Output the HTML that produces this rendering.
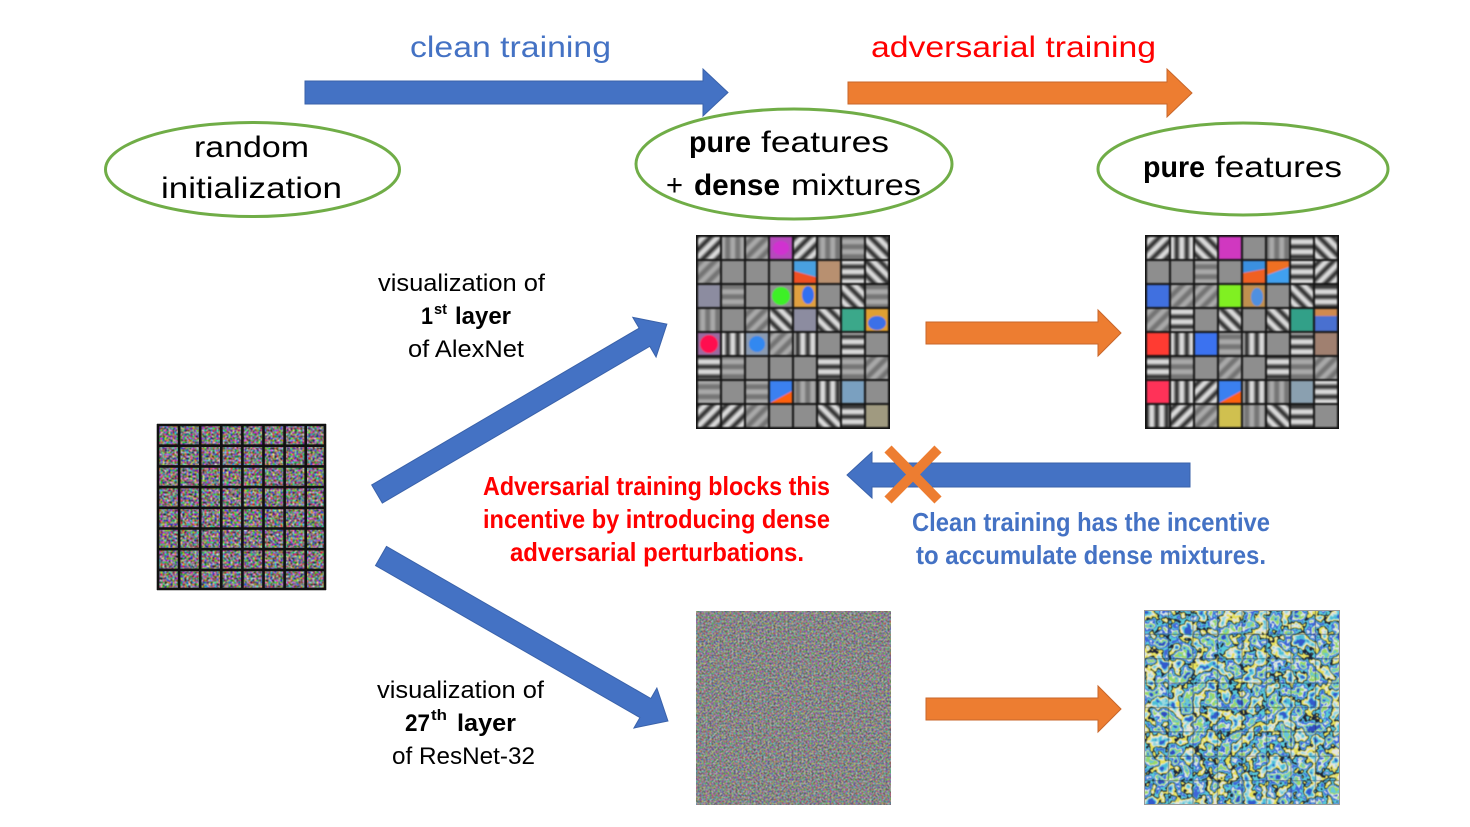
<!DOCTYPE html>
<html><head><meta charset="utf-8"><style>html,body{margin:0;padding:0;background:#fff;}svg{display:block}</style></head>
<body>
<svg width="1470" height="827" viewBox="0 0 1470 827" xmlns="http://www.w3.org/2000/svg" font-family="'Liberation Sans', sans-serif">
<defs>
<pattern id="s1" width="10" height="10" patternUnits="userSpaceOnUse" patternTransform="rotate(45)"><rect width="10" height="10" fill="#8e8e8e"/><rect width="3.5" height="10" fill="#3a3a3a"/><rect x="5" width="3.5" height="10" fill="#d8d8d8"/></pattern>
<pattern id="s2" width="10" height="10" patternUnits="userSpaceOnUse" patternTransform="rotate(-45)"><rect width="10" height="10" fill="#8e8e8e"/><rect width="3.5" height="10" fill="#3a3a3a"/><rect x="5" width="3.5" height="10" fill="#d8d8d8"/></pattern>
<pattern id="s3" width="10" height="10" patternUnits="userSpaceOnUse" patternTransform="rotate(90)"><rect width="10" height="10" fill="#8e8e8e"/><rect width="3.5" height="10" fill="#3a3a3a"/><rect x="5" width="3.5" height="10" fill="#d8d8d8"/></pattern>
<pattern id="s4" width="10" height="10" patternUnits="userSpaceOnUse"><rect width="10" height="10" fill="#8e8e8e"/><rect width="3.5" height="10" fill="#3a3a3a"/><rect x="5" width="3.5" height="10" fill="#d8d8d8"/></pattern>
<pattern id="f1" width="10" height="10" patternUnits="userSpaceOnUse" patternTransform="rotate(45)"><rect width="10" height="10" fill="#8e8e8e"/><rect width="3.5" height="10" fill="#747474"/><rect x="5" width="3.5" height="10" fill="#a8a8a8"/></pattern>
<pattern id="f3" width="10" height="10" patternUnits="userSpaceOnUse" patternTransform="rotate(90)"><rect width="10" height="10" fill="#8e8e8e"/><rect width="3.5" height="10" fill="#747474"/><rect x="5" width="3.5" height="10" fill="#a8a8a8"/></pattern>
<pattern id="f4" width="10" height="10" patternUnits="userSpaceOnUse"><rect width="10" height="10" fill="#8e8e8e"/><rect width="3.5" height="10" fill="#747474"/><rect x="5" width="3.5" height="10" fill="#a8a8a8"/></pattern>
<filter id="bl" x="-2%" y="-2%" width="104%" height="104%"><feGaussianBlur stdDeviation="0.9"/></filter>
<filter id="nz1" x="0" y="0" width="1" height="1" color-interpolation-filters="sRGB"><feTurbulence type="fractalNoise" baseFrequency="0.5" numOctaves="2" seed="4"/><feColorMatrix type="matrix" values="2.4 0 0 0 -0.7  0 2.2 0 0 -0.62  0 0 2.4 0 -0.7  0 0 0 0 1"/><feGaussianBlur stdDeviation="0.5"/></filter>
<filter id="nz2" x="0" y="0" width="1" height="1" color-interpolation-filters="sRGB"><feTurbulence type="fractalNoise" baseFrequency="0.5" numOctaves="2" seed="11"/><feColorMatrix type="matrix" values="3 0 0 0 -1  0 3 0 0 -1  0 0 3 0 -1  0 0 0 0 1"/></filter>
<filter id="nz3" x="0" y="0" width="1" height="1" color-interpolation-filters="sRGB"><feTurbulence type="fractalNoise" baseFrequency="0.08" numOctaves="3" seed="9"/><feColorMatrix type="matrix" values="1.6 0 0 0 -0.3  1.6 0 0 0 -0.3  1.6 0 0 0 -0.3  0 0 0 0 1"/><feComponentTransfer><feFuncR type="discrete" tableValues="0.2 0.3 0.6 0.9 0.9 0.12 0.35 0.25 0.85 0.6 0.4 0.2"/><feFuncG type="discrete" tableValues="0.35 0.75 0.85 0.9 0.88 0.14 0.8 0.4 0.9 0.85 0.78 0.3"/><feFuncB type="discrete" tableValues="0.8 0.85 0.88 0.88 0.35 0.22 0.85 0.85 0.9 0.4 0.86 0.75"/></feComponentTransfer><feGaussianBlur stdDeviation="0.6"/></filter>
</defs>
<rect width="1470" height="827" fill="#fff"/>

<!-- top arrows -->
<polygon points="305,81 703,81 703,69 728,92.5 703,116 703,104 305,104" fill="#4472c4" stroke="#3a62aa" stroke-width="1"/>
<polygon points="848,82 1167,82 1167,69 1192,93 1167,117 1167,104 848,104" fill="#ed7d31" stroke="#c8662a" stroke-width="1"/>

<!-- ellipses -->
<ellipse cx="252.5" cy="169.5" rx="147" ry="47" fill="none" stroke="#70ad47" stroke-width="3"/>
<ellipse cx="794" cy="164" rx="158" ry="55" fill="none" stroke="#70ad47" stroke-width="3"/>
<ellipse cx="1243" cy="169" rx="145" ry="46" fill="none" stroke="#70ad47" stroke-width="3"/>

<!-- top text -->
<text x="410" y="57" font-size="30" fill="#4472c4" textLength="201" lengthAdjust="spacingAndGlyphs">clean training</text>
<text x="871" y="57" font-size="30" fill="#ff0000" textLength="285" lengthAdjust="spacingAndGlyphs">adversarial training</text>
<text x="194" y="157" font-size="30" fill="#000" textLength="115" lengthAdjust="spacingAndGlyphs">random</text>
<text x="161" y="198" font-size="30" fill="#000" textLength="181" lengthAdjust="spacingAndGlyphs">initialization</text>
<text x="689" y="152" font-size="30" font-weight="bold" fill="#000" textLength="62" lengthAdjust="spacingAndGlyphs">pure</text>
<text x="761" y="152" font-size="30" fill="#000" textLength="128" lengthAdjust="spacingAndGlyphs">features</text>
<text x="666" y="195" font-size="30" fill="#000" textLength="17" lengthAdjust="spacingAndGlyphs">+</text>
<text x="694" y="195" font-size="30" font-weight="bold" fill="#000" textLength="86" lengthAdjust="spacingAndGlyphs">dense</text>
<text x="791" y="195" font-size="30" fill="#000" textLength="130" lengthAdjust="spacingAndGlyphs">mixtures</text>
<text x="1143" y="177" font-size="30" font-weight="bold" fill="#000" textLength="62" lengthAdjust="spacingAndGlyphs">pure</text>
<text x="1215" y="177" font-size="30" fill="#000" textLength="127" lengthAdjust="spacingAndGlyphs">features</text>

<!-- labels -->
<text x="378" y="291" font-size="24" fill="#000" textLength="167" lengthAdjust="spacingAndGlyphs">visualization of</text>
<text x="421" y="324" font-size="24" font-weight="bold" fill="#000" textLength="12" lengthAdjust="spacingAndGlyphs">1</text>
<text x="434" y="314" font-size="15" font-weight="bold" fill="#000" textLength="13" lengthAdjust="spacingAndGlyphs">st</text>
<text x="455" y="324" font-size="24" font-weight="bold" fill="#000" textLength="56" lengthAdjust="spacingAndGlyphs">layer</text>
<text x="408" y="357" font-size="24" fill="#000" textLength="116" lengthAdjust="spacingAndGlyphs">of AlexNet</text>
<text x="377" y="698" font-size="24" fill="#000" textLength="167" lengthAdjust="spacingAndGlyphs">visualization of</text>
<text x="405" y="731" font-size="24" font-weight="bold" fill="#000" textLength="25" lengthAdjust="spacingAndGlyphs">27</text>
<text x="431" y="720" font-size="15" font-weight="bold" fill="#000" textLength="16" lengthAdjust="spacingAndGlyphs">th</text>
<text x="457" y="731" font-size="24" font-weight="bold" fill="#000" textLength="59" lengthAdjust="spacingAndGlyphs">layer</text>
<text x="392" y="764" font-size="24" fill="#000" textLength="143" lengthAdjust="spacingAndGlyphs">of ResNet-32</text>

<text x="483" y="495" font-size="26" font-weight="bold" fill="#ff0000" textLength="347" lengthAdjust="spacingAndGlyphs">Adversarial training blocks this</text>
<text x="483" y="528" font-size="26" font-weight="bold" fill="#ff0000" textLength="347" lengthAdjust="spacingAndGlyphs">incentive by introducing dense</text>
<text x="510" y="561" font-size="26" font-weight="bold" fill="#ff0000" textLength="294" lengthAdjust="spacingAndGlyphs">adversarial perturbations.</text>
<text x="912" y="531" font-size="26" font-weight="bold" fill="#4472c4" textLength="358" lengthAdjust="spacingAndGlyphs">Clean training has the incentive</text>
<text x="916" y="564" font-size="26" font-weight="bold" fill="#4472c4" textLength="350" lengthAdjust="spacingAndGlyphs">to accumulate dense mixtures.</text>

<!-- diagonal arrows -->
<g transform="translate(377,494) rotate(-30.38)">
<polygon points="0,-10.5 310,-10.5 310,-23 336,0 310,23 310,10.5 0,10.5" fill="#4472c4" stroke="#3a62aa" stroke-width="1"/>
</g>
<g transform="translate(381,556) rotate(29.9)">
<polygon points="0,-11 305,-11 305,-23 331,0 305,23 305,11 0,11" fill="#4472c4" stroke="#3a62aa" stroke-width="1"/>
</g>

<!-- middle/bottom orange arrows -->
<polygon points="926,322 1098,322 1098,310 1121,333 1098,356 1098,344 926,344" fill="#ed7d31" stroke="#c8662a" stroke-width="1"/>
<polygon points="926,698 1098,698 1098,686 1121,709 1098,732 1098,720 926,720" fill="#ed7d31" stroke="#c8662a" stroke-width="1"/>

<!-- blocked blue arrow -->
<polygon points="1190,463 872,463 872,452 847,475 872,498 872,487 1190,487" fill="#4472c4" stroke="#3a62aa" stroke-width="1"/>
<line x1="888" y1="449" x2="938" y2="500" stroke="#ed7d31" stroke-width="10"/>
<line x1="938" y1="449" x2="888" y2="500" stroke="#ed7d31" stroke-width="10"/>

<!-- random init grid -->
<g transform="translate(157,424)">
<rect width="169" height="166" fill="#111"/>
<rect width="169" height="166" filter="url(#nz1)"/>
<g stroke="#111" stroke-width="2.6">
<line x1="1" y1="0" x2="1" y2="166"/><line x1="22.1" y1="0" x2="22.1" y2="166"/><line x1="43.2" y1="0" x2="43.2" y2="166"/><line x1="64.3" y1="0" x2="64.3" y2="166"/><line x1="85.4" y1="0" x2="85.4" y2="166"/><line x1="106.5" y1="0" x2="106.5" y2="166"/><line x1="127.6" y1="0" x2="127.6" y2="166"/><line x1="148.7" y1="0" x2="148.7" y2="166"/><line x1="168" y1="0" x2="168" y2="166"/>
<line x1="0" y1="1" x2="169" y2="1"/><line x1="0" y1="21.7" x2="169" y2="21.7"/><line x1="0" y1="42.4" x2="169" y2="42.4"/><line x1="0" y1="63.1" x2="169" y2="63.1"/><line x1="0" y1="83.8" x2="169" y2="83.8"/><line x1="0" y1="104.5" x2="169" y2="104.5"/><line x1="0" y1="125.2" x2="169" y2="125.2"/><line x1="0" y1="145.9" x2="169" y2="145.9"/><line x1="0" y1="165" x2="169" y2="165"/>
</g>
</g>

<!-- AlexNet grid (clean) -->
<g transform="translate(696,235)">
<rect width="194" height="194" fill="#141414"/>
<g filter="url(#bl)">
<rect x="2" y="2" width="22" height="22" fill="url(#s1)"/>
<rect x="26" y="2" width="22" height="22" fill="url(#f4)"/>
<rect x="50" y="2" width="22" height="22" fill="url(#f1)"/>
<rect x="74" y="2" width="22" height="22" fill="#b648bc"/><ellipse cx="85" cy="13" rx="8" ry="7" fill="#d030d0"/>
<rect x="98" y="2" width="22" height="22" fill="url(#s1)"/>
<rect x="122" y="2" width="22" height="22" fill="url(#f4)"/>
<rect x="146" y="2" width="22" height="22" fill="url(#f3)"/>
<rect x="170" y="2" width="22" height="22" fill="url(#s2)"/>

<rect x="2" y="26" width="22" height="22" fill="url(#f1)"/>
<rect x="26" y="26" width="22" height="22" fill="#8e8e8e"/>
<rect x="50" y="26" width="22" height="22" fill="#8e8e8e"/>
<rect x="74" y="26" width="22" height="22" fill="#8e8e8e"/>
<rect x="98" y="26" width="22" height="22" fill="#4aa0e0"/><polygon points="98,36 120,42 120,48 98,48" fill="#f05020"/>
<rect x="122" y="26" width="22" height="22" fill="#b89070"/>
<rect x="146" y="26" width="22" height="22" fill="url(#s3)"/>
<rect x="170" y="26" width="22" height="22" fill="url(#s2)"/>

<rect x="2" y="50" width="22" height="22" fill="#8c8ca0"/>
<rect x="26" y="50" width="22" height="22" fill="url(#f3)"/>
<rect x="50" y="50" width="22" height="22" fill="#8e8e8e"/>
<rect x="74" y="50" width="22" height="22" fill="#8e8e8e"/><ellipse cx="85" cy="61" rx="9" ry="9" fill="#3cf028"/>
<rect x="98" y="50" width="22" height="22" fill="#e0a040"/><ellipse cx="112" cy="60" rx="6" ry="9" fill="#3070f0"/>
<rect x="122" y="50" width="22" height="22" fill="#8e8e8e"/>
<rect x="146" y="50" width="22" height="22" fill="url(#s2)"/>
<rect x="170" y="50" width="22" height="22" fill="url(#f3)"/>

<rect x="2" y="74" width="22" height="22" fill="url(#f4)"/>
<rect x="26" y="74" width="22" height="22" fill="#8e8e8e"/>
<rect x="50" y="74" width="22" height="22" fill="url(#f1)"/>
<rect x="74" y="74" width="22" height="22" fill="url(#s2)"/>
<rect x="98" y="74" width="22" height="22" fill="#8c8ca0"/>
<rect x="122" y="74" width="22" height="22" fill="url(#s2)"/>
<rect x="146" y="74" width="22" height="22" fill="#3aa88a"/>
<rect x="170" y="74" width="22" height="22" fill="#e0a030"/><ellipse cx="181" cy="88" rx="9" ry="7" fill="#3a70e8"/>

<rect x="2" y="98" width="22" height="22" fill="#9a6aa0"/><circle cx="13" cy="109" r="9" fill="#ff1050"/>
<rect x="26" y="98" width="22" height="22" fill="url(#s4)"/>
<rect x="50" y="98" width="22" height="22" fill="#8a9ab0"/><circle cx="61" cy="109" r="8" fill="#3088f0"/>
<rect x="74" y="98" width="22" height="22" fill="url(#f1)"/>
<rect x="98" y="98" width="22" height="22" fill="url(#s4)"/>
<rect x="122" y="98" width="22" height="22" fill="#8e8e8e"/>
<rect x="146" y="98" width="22" height="22" fill="url(#s3)"/>
<rect x="170" y="98" width="22" height="22" fill="#8e8e8e"/>

<rect x="2" y="122" width="22" height="22" fill="url(#s3)"/>
<rect x="26" y="122" width="22" height="22" fill="url(#f3)"/>
<rect x="50" y="122" width="22" height="22" fill="#8e8e8e"/>
<rect x="74" y="122" width="22" height="22" fill="#8e8e8e"/>
<rect x="98" y="122" width="22" height="22" fill="#8e8e8e"/>
<rect x="122" y="122" width="22" height="22" fill="url(#s3)"/>
<rect x="146" y="122" width="22" height="22" fill="url(#f3)"/>
<rect x="170" y="122" width="22" height="22" fill="url(#f1)"/>

<rect x="2" y="146" width="22" height="22" fill="url(#f3)"/>
<rect x="26" y="146" width="22" height="22" fill="#8e8e8e"/>
<rect x="50" y="146" width="22" height="22" fill="url(#f3)"/>
<rect x="74" y="146" width="22" height="22" fill="#3a80f0"/><polygon points="74,168 96,156 96,168" fill="#ff6010"/>
<rect x="98" y="146" width="22" height="22" fill="url(#f4)"/>
<rect x="122" y="146" width="22" height="22" fill="url(#s4)"/>
<rect x="146" y="146" width="22" height="22" fill="#7aa0c0"/>
<rect x="170" y="146" width="22" height="22" fill="#8e8e8e"/>

<rect x="2" y="170" width="22" height="22" fill="url(#s1)"/>
<rect x="26" y="170" width="22" height="22" fill="url(#s1)"/>
<rect x="50" y="170" width="22" height="22" fill="url(#f1)"/>
<rect x="74" y="170" width="22" height="22" fill="#8e8e8e"/>
<rect x="98" y="170" width="22" height="22" fill="#8e8e8e"/>
<rect x="122" y="170" width="22" height="22" fill="url(#s2)"/>
<rect x="146" y="170" width="22" height="22" fill="url(#s3)"/>
<rect x="170" y="170" width="22" height="22" fill="#a09a80"/>
</g>
</g>

<!-- AlexNet grid (adversarial) -->
<g transform="translate(1145,235)">
<rect width="194" height="194" fill="#141414"/>
<g filter="url(#bl)">
<rect x="2" y="2" width="22" height="22" fill="url(#s1)"/>
<rect x="26" y="2" width="22" height="22" fill="url(#s4)"/>
<rect x="50" y="2" width="22" height="22" fill="url(#s2)"/>
<rect x="74" y="2" width="22" height="22" fill="#d038c0"/>
<rect x="98" y="2" width="22" height="22" fill="#8e8e8e"/>
<rect x="122" y="2" width="22" height="22" fill="url(#f4)"/>
<rect x="146" y="2" width="22" height="22" fill="url(#s3)"/>
<rect x="170" y="2" width="22" height="22" fill="url(#s2)"/>

<rect x="2" y="26" width="22" height="22" fill="#8e8e8e"/>
<rect x="26" y="26" width="22" height="22" fill="#8e8e8e"/>
<rect x="50" y="26" width="22" height="22" fill="url(#f3)"/>
<rect x="74" y="26" width="22" height="22" fill="#8e8e8e"/>
<rect x="98" y="26" width="22" height="22" fill="#3a90e0"/><polygon points="98,38 120,34 120,48 98,48" fill="#f06020"/>
<rect x="122" y="26" width="22" height="22" fill="#f07020"/><polygon points="122,40 144,32 144,48 122,48" fill="#40a0f0"/>
<rect x="146" y="26" width="22" height="22" fill="url(#s3)"/>
<rect x="170" y="26" width="22" height="22" fill="url(#s1)"/>

<rect x="2" y="50" width="22" height="22" fill="#4070e0"/>
<rect x="26" y="50" width="22" height="22" fill="url(#f1)"/>
<rect x="50" y="50" width="22" height="22" fill="url(#f1)"/>
<rect x="74" y="50" width="22" height="22" fill="#80f020"/>
<rect x="98" y="50" width="22" height="22" fill="#c09050"/><ellipse cx="112" cy="62" rx="6" ry="9" fill="#5090e0"/>
<rect x="122" y="50" width="22" height="22" fill="#8e8e8e"/>
<rect x="146" y="50" width="22" height="22" fill="url(#s2)"/>
<rect x="170" y="50" width="22" height="22" fill="url(#s3)"/>

<rect x="2" y="74" width="22" height="22" fill="url(#f1)"/>
<rect x="26" y="74" width="22" height="22" fill="url(#s3)"/>
<rect x="50" y="74" width="22" height="22" fill="#8e8e8e"/>
<rect x="74" y="74" width="22" height="22" fill="url(#s2)"/>
<rect x="98" y="74" width="22" height="22" fill="#8e8e8e"/>
<rect x="122" y="74" width="22" height="22" fill="url(#s2)"/>
<rect x="146" y="74" width="22" height="22" fill="#30a088"/>
<rect x="170" y="74" width="22" height="22" fill="#4a70d0"/><rect x="170" y="74" width="22" height="7" fill="#d08a50"/>

<rect x="2" y="98" width="22" height="22" fill="#ff3a30"/>
<rect x="26" y="98" width="22" height="22" fill="url(#s4)"/>
<rect x="50" y="98" width="22" height="22" fill="#3a72f0"/>
<rect x="74" y="98" width="22" height="22" fill="url(#f3)"/>
<rect x="98" y="98" width="22" height="22" fill="url(#s4)"/>
<rect x="122" y="98" width="22" height="22" fill="#8e8e8e"/>
<rect x="146" y="98" width="22" height="22" fill="url(#s3)"/>
<rect x="170" y="98" width="22" height="22" fill="#a08070"/>

<rect x="2" y="122" width="22" height="22" fill="url(#s3)"/>
<rect x="26" y="122" width="22" height="22" fill="url(#f3)"/>
<rect x="50" y="122" width="22" height="22" fill="#8e8e8e"/>
<rect x="74" y="122" width="22" height="22" fill="url(#f1)"/>
<rect x="98" y="122" width="22" height="22" fill="#8e8e8e"/>
<rect x="122" y="122" width="22" height="22" fill="url(#s3)"/>
<rect x="146" y="122" width="22" height="22" fill="url(#f3)"/>
<rect x="170" y="122" width="22" height="22" fill="url(#f1)"/>

<rect x="2" y="146" width="22" height="22" fill="#ff3058"/>
<rect x="26" y="146" width="22" height="22" fill="url(#s4)"/>
<rect x="50" y="146" width="22" height="22" fill="url(#s1)"/>
<rect x="74" y="146" width="22" height="22" fill="#3a80f0"/><polygon points="74,168 96,156 96,168" fill="#ff6010"/>
<rect x="98" y="146" width="22" height="22" fill="url(#s4)"/>
<rect x="122" y="146" width="22" height="22" fill="url(#f4)"/>
<rect x="146" y="146" width="22" height="22" fill="#8aa0b0"/>
<rect x="170" y="146" width="22" height="22" fill="url(#s3)"/>

<rect x="2" y="170" width="22" height="22" fill="url(#s4)"/>
<rect x="26" y="170" width="22" height="22" fill="url(#s1)"/>
<rect x="50" y="170" width="22" height="22" fill="url(#f1)"/>
<rect x="74" y="170" width="22" height="22" fill="#d0c050"/>
<rect x="98" y="170" width="22" height="22" fill="url(#f4)"/>
<rect x="122" y="170" width="22" height="22" fill="url(#s2)"/>
<rect x="146" y="170" width="22" height="22" fill="url(#s3)"/>
<rect x="170" y="170" width="22" height="22" fill="#8e8e8e"/>
</g>
</g>

<!-- ResNet clean: noisy grey -->
<g transform="translate(696,611)">
<rect width="195" height="194" fill="#8a8a8a"/>
<rect width="195" height="194" filter="url(#nz2)" opacity="0.3"/>
</g>

<!-- ResNet adversarial: colorful -->
<g transform="translate(1144,610)">
<rect width="196" height="195" filter="url(#nz3)"/>
<g stroke="#203040" stroke-width="1.5" opacity="0.3">
<line x1="24.5" y1="0" x2="24.5" y2="195"/><line x1="49" y1="0" x2="49" y2="195"/><line x1="73.5" y1="0" x2="73.5" y2="195"/><line x1="98" y1="0" x2="98" y2="195"/><line x1="122.5" y1="0" x2="122.5" y2="195"/><line x1="147" y1="0" x2="147" y2="195"/><line x1="171.5" y1="0" x2="171.5" y2="195"/>
<line x1="0" y1="24.4" x2="196" y2="24.4"/><line x1="0" y1="48.8" x2="196" y2="48.8"/><line x1="0" y1="73.1" x2="196" y2="73.1"/><line x1="0" y1="97.5" x2="196" y2="97.5"/><line x1="0" y1="121.9" x2="196" y2="121.9"/><line x1="0" y1="146.3" x2="196" y2="146.3"/><line x1="0" y1="170.6" x2="196" y2="170.6"/>
</g>
<rect x="0.5" y="0.5" width="195" height="194" fill="none" stroke="#999" stroke-width="1"/>
</g>
</svg>
</body></html>
